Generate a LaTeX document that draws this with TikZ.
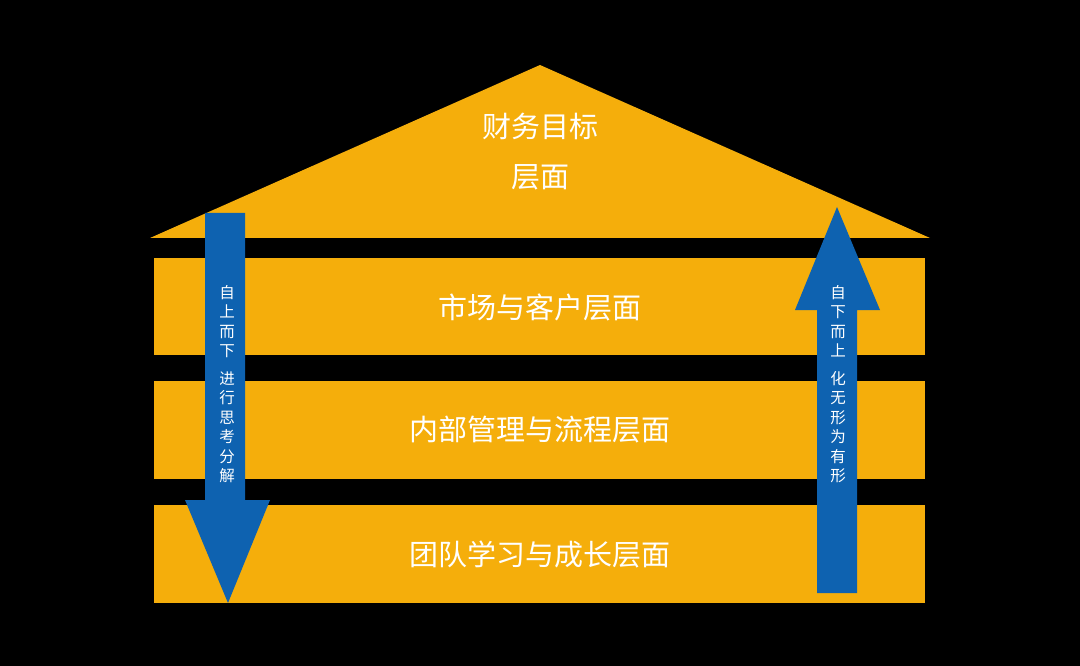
\documentclass[tikz,border=0pt]{standalone}
\usepackage{fontspec}
\setmainfont{Noto Sans CJK SC}
\begin{document}
\begin{tikzpicture}[x=1pt,y=-1pt,
  band/.style={fill=orng,draw=none},
  arr/.style={fill=blu,draw=none},
  big/.style={text=white,font=\fontsize{29}{50}\selectfont,align=center},
  vert/.style={text=white,font=\fontsize{15.5}{19.5}\selectfont,align=center,inner sep=0pt}]
\definecolor{orng}{HTML}{F5AE0B}
\definecolor{blu}{HTML}{0E62B0}
\fill[black] (0,0) rectangle (1080,666);
\useasboundingbox (0,0) rectangle (1080,666);
\fill[band] (150,238) -- (540,65) -- (930,238) -- cycle;
\fill[band] (154,258) rectangle (925,355);
\fill[band] (154,381) rectangle (925,479);
\fill[band] (154,505) rectangle (925,603);
\node[big] (t0) at (540,152) {财务目标\\层面};
\node[big] (t1) at (540,307) {市场与客户层面};
\node[big] (t2) at (540,430) {内部管理与流程层面};
\node[big] (t3) at (540,554) {团队学习与成长层面};
\fill[arr] (205,213) -- (245,213) -- (245,500) -- (270,500) -- (228,603) -- (185,500) -- (205,500) -- cycle;
\fill[arr] (817,593) -- (857,593) -- (857,310) -- (880,310) -- (837,207) -- (795,310) -- (817,310) -- cycle;
\node[vert] (l) at (227,384) {自\\上\\而\\下\\[8pt]进\\行\\思\\考\\分\\解};
\node[vert] (r) at (838,384) {自\\下\\而\\上\\[8pt]化\\无\\形\\为\\有\\形};
\end{tikzpicture}
\end{document}
